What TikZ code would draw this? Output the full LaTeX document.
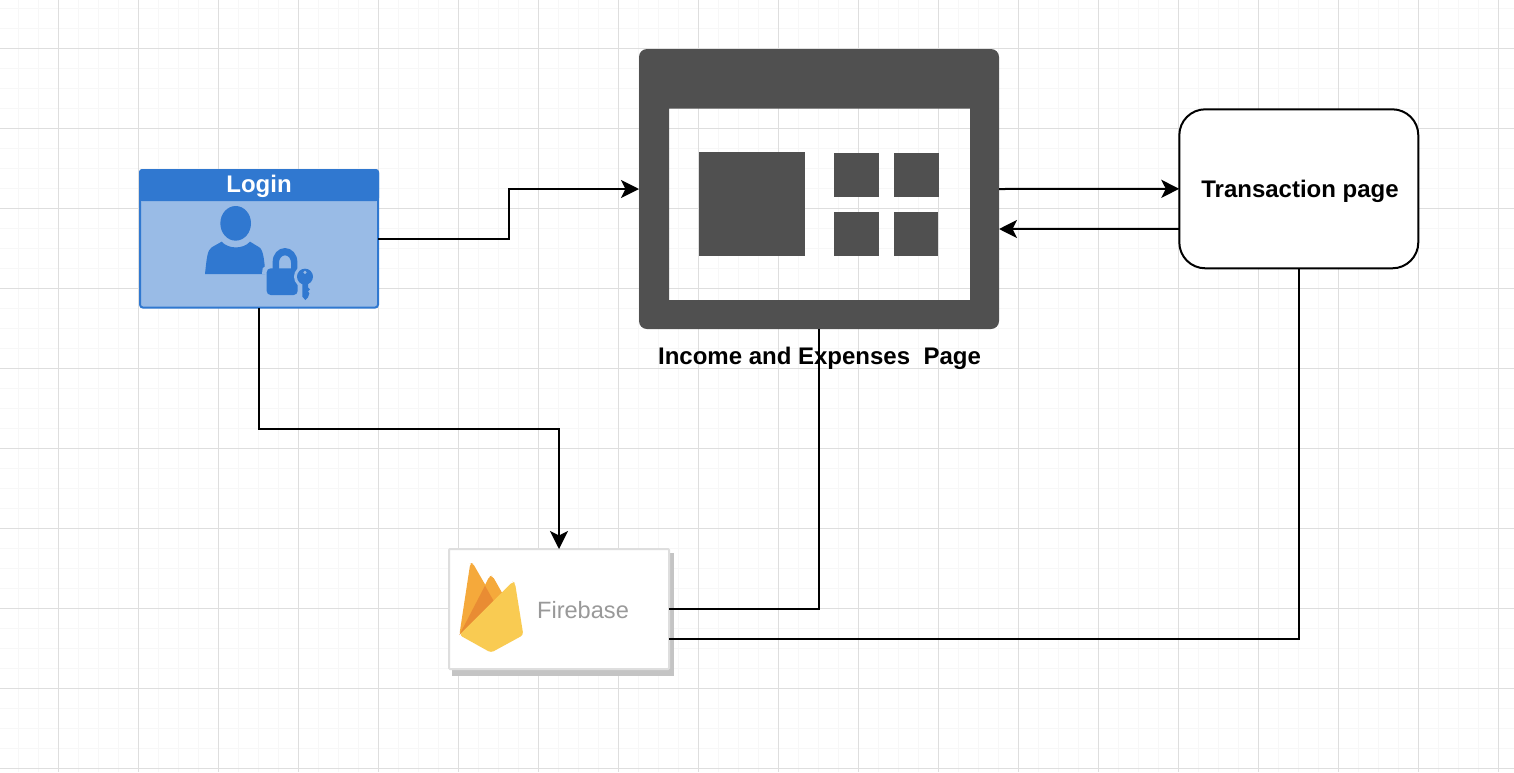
\documentclass[tikz,border=0pt]{standalone}
\usepackage{fontspec}
\setmainfont{Liberation Sans}
\usetikzlibrary{arrows.meta,calc}
\definecolor{gridmajor}{HTML}{DEDEDE}
\definecolor{gridminor}{HTML}{F7F7F7}
\definecolor{loginblue}{HTML}{3078D0}
\definecolor{loginfill}{HTML}{99BBE6}
\definecolor{pagegrey}{HTML}{505050}
\definecolor{fireborder}{HTML}{DEDEDE}
\definecolor{fireshadow}{HTML}{C4C4C4}
\definecolor{fireorange}{HTML}{F5A93B}
\definecolor{firedark}{HTML}{E98C33}
\definecolor{fireyellow}{HTML}{F9CB52}
\definecolor{firetext}{HTML}{999999}
\tikzset{
  boxbase/.style={inner sep=0pt,outer sep=0pt,line width=2pt},
  boldtext/.style={inner sep=0pt,outer sep=0pt,font=\bfseries\fontsize{24}{28}\selectfont,text=black},
  link/.style={draw=black,line width=2pt,line join=miter},
  linkarrow/.style={link,-{Stealth[length=18pt,width=18pt,inset=4.5pt]}},
}
\begin{document}
\begin{tikzpicture}[x=1pt,y=-1pt]
\useasboundingbox (0,0) rectangle (1514,772);
\fill[white] (0,0) rectangle (1514,772);
% grid
\foreach \i in {0,...,75} \draw[gridminor,line width=1pt] ({18.5+20*\i},0) -- ({18.5+20*\i},772);
\foreach \i in {0,...,38} \draw[gridminor,line width=1pt] (0,{8.5+20*\i}) -- (1514,{8.5+20*\i});
\foreach \i in {0,...,18} \draw[gridmajor,line width=1pt] ({58.5+80*\i},0) -- ({58.5+80*\i},772);
\foreach \i in {0,...,9} \draw[gridmajor,line width=1pt] (0,{48.5+80*\i}) -- (1514,{48.5+80*\i});

% page icon
\node[inner sep=0pt,outer sep=0pt,minimum width=360pt,minimum height=280pt] (pageicon) at (819,189) {};
\fill[pagegrey,even odd rule,rounded corners=8pt] (639,49) rectangle (999,329)
  [sharp corners] (669,108.5) rectangle (970,300);
\fill[pagegrey] (699,152) rectangle (804.5,256);
\fill[pagegrey] (833.5,152.5) rectangle (879,196.5);
\fill[pagegrey] (893.5,152.5) rectangle (939,196.5);
\fill[pagegrey] (834,212) rectangle (879,256);
\fill[pagegrey] (893.5,212) rectangle (938,256);
\node[boldtext] (pagelabel) at (819.5,358) {Income and Expenses\ \ Page};

% login
\node[boxbase,draw=loginblue,fill=loginfill,rounded corners=3pt,minimum width=238pt,minimum height=137.6pt] (loginbox) at (259,238.8) {};
\fill[loginblue,rounded corners=3pt] (139,201) -- (139,169) -- (379,169) -- (379,201) -- cycle;
\fill[loginblue] (139,195) rectangle (379,201);
\node[boldtext,text=white] (logintitle) at (259,186.5) {Login};
\begin{scope}[shift={(200,200)},x=1/3*1pt,y=-1/3*1pt]
  \fill[loginblue] (107,70) ellipse [x radius=46,y radius=52];
  \fill[loginblue] (15,222) .. controls (20,175) and (22,150) .. (35,142)
     -- (65,125) .. controls (85,148) and (130,148) .. (150,125)
     -- (178,142) .. controls (190,150) and (193,180) .. (196,222) -- cycle;
  \fill[loginfill] (186,222) -- (188,205) -- (200,195) -- (200,222) -- cycle;
  \fill[loginblue,rounded corners=4pt] (200,205) rectangle (293,285);
  \fill[loginblue,even odd rule] (218,210) -- (218,185) arc[start angle=180,end angle=360,x radius=37,y radius=41] -- (292,210) -- cycle
     (237,210) -- (237,188) arc[start angle=180,end angle=360,x radius=18,y radius=22] -- (273,210) -- cycle;
  \fill[loginfill] (315,230) circle [radius=33];
  \fill[loginblue] (315,230) circle [radius=24];
  \fill[loginfill] (315,217) circle [radius=5];
  \fill[loginblue] (307,248) -- (324,248) -- (324,262) -- (330,268) -- (324,274) -- (328,280) -- (324,292) -- (316,300) -- (307,290) -- cycle;
\end{scope}

% transaction
\node[boxbase,draw=black,fill=white,rounded corners=26pt,minimum width=239pt,minimum height=159pt] (transbox) at (1298.8,188.8) {};
\node[boldtext] (translabel) at (1300,191.5) {Transaction page};

% firebase
\fill[fireshadow] (452,553) rectangle (674,676);
\node[boxbase,draw=fireborder,fill=white,rounded corners=1pt,minimum width=220pt,minimum height=120pt] (firebox) at (559,609) {};
\begin{scope}[shift={(450,555)},x=1/3*1pt,y=-1/3*1pt]
  \fill[fireorange,rounded corners=3pt] (28,240) -- (61,24) -- (68,24) -- (135,140) -- cycle;
  \fill[fireorange,rounded corners=3pt] (100,100) -- (118,64) -- (127,62) -- (160,120) -- (130,150) -- cycle;
  \fill[firedark] (28,240) -- (105,92) -- (131,138) -- cycle;
  \fill[fireyellow,rounded corners=3pt] (28,240) -- (188,80) -- (195,84) -- (220,240) -- (123,293) -- cycle;
\end{scope}
\node[inner sep=0pt,outer sep=0pt,text=firetext,font=\fontsize{23.6}{28}\selectfont] (firelabel) at (583,610.5) {Firebase};

% connectors
\draw[linkarrow] (loginbox.east) -- ++(131,0) |- (pageicon.west);
\draw[linkarrow] (pageicon.east) -- (transbox.west);
\draw[linkarrow] ($(transbox.west)+(0,40)$) -- ($(pageicon.east)+(0,40)$);
\draw[linkarrow] (loginbox.south) -- ++(0,121.5) -| (firebox.north);
\draw[link] (firebox.east) -| (pageicon.south);
\draw[link] ($(firebox.east)+(0,30)$) -| (transbox.south);
\end{tikzpicture}
\end{document}
